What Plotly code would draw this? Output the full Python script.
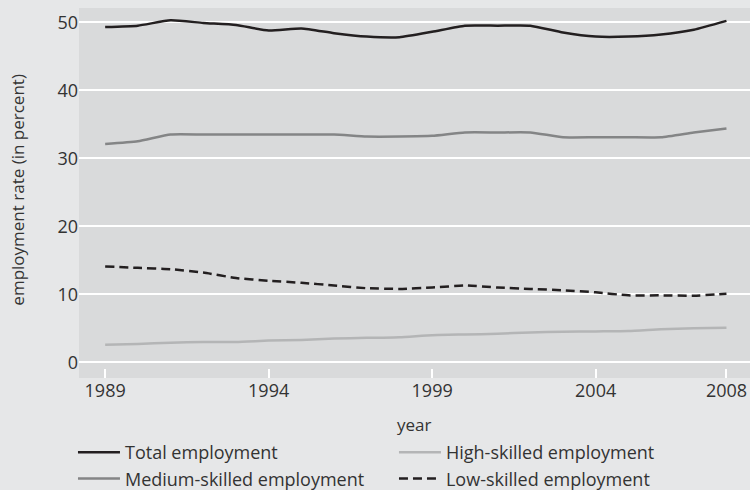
import plotly.graph_objects as go

years = list(range(1989, 2009))

total_employment = [49.3, 49.5, 50.3, 49.9, 49.6, 48.8, 49.1, 48.4, 47.9, 47.8,
                    48.6, 49.5, 49.5, 49.5, 48.5, 47.9, 47.9, 48.2, 48.9, 50.2]
medium_skilled = [32.1, 32.5, 33.5, 33.5, 33.5, 33.5, 33.5, 33.5, 33.2, 33.2,
                  33.3, 33.8, 33.8, 33.8, 33.1, 33.1, 33.1, 33.1, 33.8, 34.4]
high_skilled = [2.6, 2.7, 2.9, 3.0, 3.0, 3.2, 3.3, 3.5, 3.6, 3.7,
                4.0, 4.1, 4.2, 4.4, 4.5, 4.55, 4.6, 4.85, 5.0, 5.1]
low_skilled = [14.1, 13.9, 13.7, 13.2, 12.4, 12.0, 11.7, 11.3, 10.9, 10.8,
               11.0, 11.3, 11.0, 10.8, 10.6, 10.3, 9.85, 9.85, 9.8, 10.1]

x_ticks = [1989, 1994, 1999, 2004, 2008]
y_ticks = [0, 10, 20, 30, 40, 50]

FONT = "Open Sans, sans-serif"
TEXT = "#333333"

fig = go.Figure()

# legend order is row by row: Total, High / Medium, Low
fig.add_trace(go.Scatter(x=years, y=total_employment, name="Total employment", mode="lines",
                         line=dict(color="#231f20", width=2.5, shape="spline", smoothing=0.5)))
fig.add_trace(go.Scatter(x=years, y=high_skilled, name="High-skilled employment", mode="lines",
                         line=dict(color="#b4b5b6", width=2.5, shape="spline", smoothing=0.5)))
fig.add_trace(go.Scatter(x=years, y=medium_skilled, name="Medium-skilled employment", mode="lines",
                         line=dict(color="#848586", width=2.5, shape="spline", smoothing=0.5)))
fig.add_trace(go.Scatter(x=years, y=low_skilled, name="Low-skilled employment", mode="lines",
                         line=dict(color="#231f20", width=2.5, dash="9px,5px", shape="spline", smoothing=0.5)))

fig.update_xaxes(
    range=[1988.2, 2008.72],
    tickvals=x_ticks,
    ticks="inside", ticklen=9, tickwidth=1.5, tickcolor="white",
    showgrid=False, zeroline=False, showline=False, automargin=False,
    tickfont=dict(size=18, color=TEXT, family=FONT),
)
fig.update_yaxes(
    range=[-2.3, 52.1],
    tickvals=y_ticks,
    showgrid=True, gridcolor="white", gridwidth=1.5,
    zeroline=False, showline=False, ticks="", automargin=False,
    tickfont=dict(size=18, color=TEXT, family=FONT),
)

fig.add_annotation(text="employment rate (in percent)", textangle=-90,
                   xref="paper", yref="paper", x=-0.093, y=0.508,
                   xanchor="center", yanchor="middle", showarrow=False,
                   font=dict(size=17, color=TEXT, family=FONT))
fig.add_annotation(text="year", xref="paper", yref="paper", x=0.5, y=-0.127,
                   xanchor="center", yanchor="middle", showarrow=False,
                   font=dict(size=17, color=TEXT, family=FONT))

fig.update_layout(
    width=750, height=490,
    margin=dict(l=79, r=0, t=8, b=112),
    paper_bgcolor="#e6e7e8",
    plot_bgcolor="#d9dadb",
    showlegend=True,
    legend=dict(orientation="h", xref="container", yref="container",
                x=0.0973, y=0.1143, xanchor="left", yanchor="top",
                entrywidth=264, entrywidthmode="pixels", itemwidth=42,
                bgcolor="rgba(0,0,0,0)",
                font=dict(size=18, color=TEXT, family=FONT)),
)

fig.write_html("out.html", config={"displayModeBar": False},
               post_script="document.body.style.margin='0px';")
